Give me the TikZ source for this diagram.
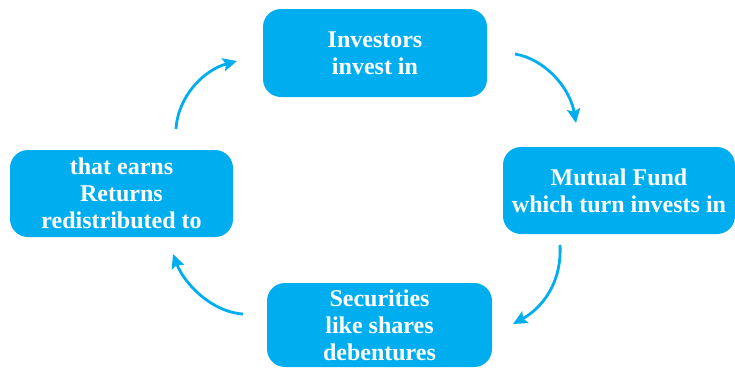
\documentclass[tikz,border=0pt]{standalone}
\usepackage{fontspec}
\setmainfont{Liberation Serif}
\usetikzlibrary{arrows.meta}
\definecolor{fundcyan}{RGB}{0,174,239}
\begin{document}
\begin{tikzpicture}[x=1pt,y=-1pt,
  cyclebox/.style={fill=fundcyan, draw=none, rounded corners=18pt, inner sep=0pt,
    text=white, align=center, font=\fontsize{24}{27}\selectfont\bfseries},
  cyclearrow/.style={draw=fundcyan, line width=2.8pt,
    -{Stealth[length=14pt,width=13pt,inset=2.5pt]}}
]
\useasboundingbox (0,0) rectangle (735,368);
\node[cyclebox, minimum width=224pt, minimum height=88pt] (inv) at (375,53) {Investors\\invest in};
\node[cyclebox, minimum width=232pt, minimum height=87pt] (mf) at (619,190.5) {Mutual Fund\\which turn invests in};
\node[cyclebox, minimum width=225pt, minimum height=84pt] (sec) at (379.5,325) {Securities\\like shares\\debentures};
\node[cyclebox, minimum width=223pt, minimum height=87pt] (ret) at (121.5,193.5) {that earns\\Returns\\redistributed to};

\coordinate (a1s) at (515,54);  \coordinate (a1e) at (576,123);
\coordinate (a2s) at (560,245); \coordinate (a2e) at (513,324);
\coordinate (a3s) at (243,314); \coordinate (a3e) at (173,254);
\coordinate (a4s) at (176,129); \coordinate (a4e) at (237,61);

\draw[cyclearrow] (a1s) .. controls (545,59) and (570,88) .. (a1e);
\draw[cyclearrow] (a2s) .. controls (562,283) and (542,308) .. (a2e);
\draw[cyclearrow] (a3s) .. controls (211,312) and (184,283) .. (a3e);
\draw[cyclearrow] (a4s) .. controls (178,96) and (204,70) .. (a4e);
\end{tikzpicture}
\end{document}
